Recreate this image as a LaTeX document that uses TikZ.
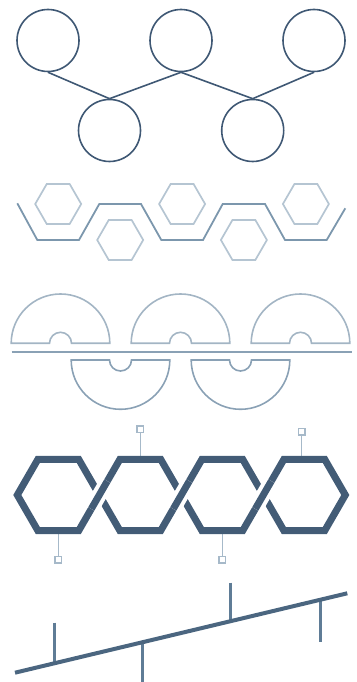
\documentclass[tikz,border=0pt]{standalone}
\definecolor{slate}{HTML}{3F5874}
\definecolor{steel}{HTML}{7C97AD}
\definecolor{mist}{HTML}{B5C5D2}
\definecolor{haze}{HTML}{A3B5C4}
\definecolor{pewter}{HTML}{8AA1B5}
\definecolor{navy}{HTML}{435C76}
\definecolor{stemgray}{HTML}{A6B9C9}
\definecolor{beamblue}{HTML}{4B6680}
\definecolor{tickblue}{HTML}{5F7C96}
\begin{document}
\begin{tikzpicture}[x=1pt,y=1pt,
  ball/.style={circle, draw=slate, line width=1.6pt, minimum size=62pt, inner sep=0pt},
  tab/.style={rectangle, draw=stemgray, fill=white, line width=1.5pt, minimum size=6.5pt, inner sep=0pt}]
\useasboundingbox (0,0) rectangle (356,682);
% circles
\node[ball] (c1) at (48,641.5) {};
\node[ball] (c2) at (181,641.5) {};
\node[ball] (c3) at (314,641.5) {};
\node[ball] (c4) at (109.5,551.5) {};
\node[ball] (c5) at (252.7,551.5) {};
\draw[slate, line width=1.6pt] (c1.south) -- (c4.north);
\draw[slate, line width=1.6pt] (c2.south) -- (c4.north);
\draw[slate, line width=1.6pt] (c2.south) -- (c5.north);
\draw[slate, line width=1.6pt] (c3.south) -- (c5.north);
% small hexagons and zigzag
\draw[mist, line width=1.7pt] (81.2,478) -- ++(120:23) -- ++(180:23) -- ++(240:23) -- ++(300:23) -- ++(0:23) -- cycle;
\draw[mist, line width=1.7pt] (205.1,478) -- ++(120:23) -- ++(180:23) -- ++(240:23) -- ++(300:23) -- ++(0:23) -- cycle;
\draw[mist, line width=1.7pt] (328.9,478) -- ++(120:23) -- ++(180:23) -- ++(240:23) -- ++(300:23) -- ++(0:23) -- cycle;
\draw[mist, line width=1.7pt] (143.2,442) -- ++(120:23) -- ++(180:23) -- ++(240:23) -- ++(300:23) -- ++(0:23) -- cycle;
\draw[mist, line width=1.7pt] (266.9,442) -- ++(120:23) -- ++(180:23) -- ++(240:23) -- ++(300:23) -- ++(0:23) -- cycle;
\draw[steel, line width=1.8pt] (17.3,478.7) -- (37.3,442) -- (79,442) -- (99.3,478) -- (141,478) -- (161.3,442) -- (203,442) -- (222.7,478) -- (265,478) -- (285,442) -- (326.7,442) -- (345.3,473.7);
% half discs
\draw[haze, line width=1.6pt] (11.2,338.7) arc[start angle=180, end angle=0, radius=49.3] -- (71.5,338.7) arc[start angle=0, end angle=180, radius=11] -- cycle;
\draw[haze, line width=1.6pt] (131.2,338.7) arc[start angle=180, end angle=0, radius=49.3] -- (191.5,338.7) arc[start angle=0, end angle=180, radius=11] -- cycle;
\draw[haze, line width=1.6pt] (251.2,338.7) arc[start angle=180, end angle=0, radius=49.3] -- (311.5,338.7) arc[start angle=0, end angle=180, radius=11] -- cycle;
\draw[pewter, line width=2pt] (11.7,330.3) -- (351.7,330.3);
\draw[pewter, line width=1.6pt] (71.2,322) arc[start angle=180, end angle=360, radius=49.3] -- (131.5,322) arc[start angle=0, end angle=-180, radius=11] -- cycle;
\draw[pewter, line width=1.6pt] (191.2,322) arc[start angle=180, end angle=360, radius=49.3] -- (251.5,322) arc[start angle=0, end angle=-180, radius=11] -- cycle;
% hexagon chain
\node[tab] (t1) at (140.3,252.5) {};
\node[tab] (t2) at (301.7,250) {};
\node[tab] (t3) at (58.3,122) {};
\node[tab] (t4) at (222.3,122) {};
\draw[stemgray, line width=1.5pt] (t1) -- (140.3,222.5);
\draw[stemgray, line width=1.5pt] (t2) -- (301.7,222.5);
\draw[stemgray, line width=1.5pt] (t3) -- (58.3,151.5);
\draw[stemgray, line width=1.5pt] (t4) -- (222.3,151.5);
\draw[navy, line width=7pt, line join=miter] (99.3,187) -- ++(120:41) -- ++(180:41) -- ++(240:41) -- ++(300:41) -- ++(0:41) -- cycle;
\draw[navy, line width=7pt, line join=miter] (181.3,187) -- ++(120:41) -- ++(180:41) -- ++(240:41) -- ++(300:41) -- ++(0:41) -- cycle;
\draw[navy, line width=7pt, line join=miter] (263.3,187) -- ++(120:41) -- ++(180:41) -- ++(240:41) -- ++(300:41) -- ++(0:41) -- cycle;
\draw[navy, line width=7pt, line join=miter] (345.3,187) -- ++(120:41) -- ++(180:41) -- ++(240:41) -- ++(300:41) -- ++(0:41) -- cycle;
\draw[white, line width=15pt] (99.3,187) ++(240:16) -- ++(60:32);
\draw[navy, line width=7pt] (99.3,187) ++(240:16) -- ++(60:32);
\draw[white, line width=15pt] (181.3,187) ++(240:16) -- ++(60:32);
\draw[navy, line width=7pt] (181.3,187) ++(240:16) -- ++(60:32);
\draw[white, line width=15pt] (263.3,187) ++(240:16) -- ++(60:32);
\draw[navy, line width=7pt] (263.3,187) ++(240:16) -- ++(60:32);
% beam with ticks
\draw[tickblue, line width=3pt] (54.3,59.3) -- (54.3,18.7);
\draw[tickblue, line width=3pt] (142.3,39.7) -- (142.3,0);
\draw[tickblue, line width=3pt] (230.7,99.3) -- (230.7,60.9);
\draw[tickblue, line width=3pt] (320,82.2) -- (320,39.7);
\draw[beamblue, line width=4pt] (15,9.3) -- (347.3,88.7);
\end{tikzpicture}
\end{document}
